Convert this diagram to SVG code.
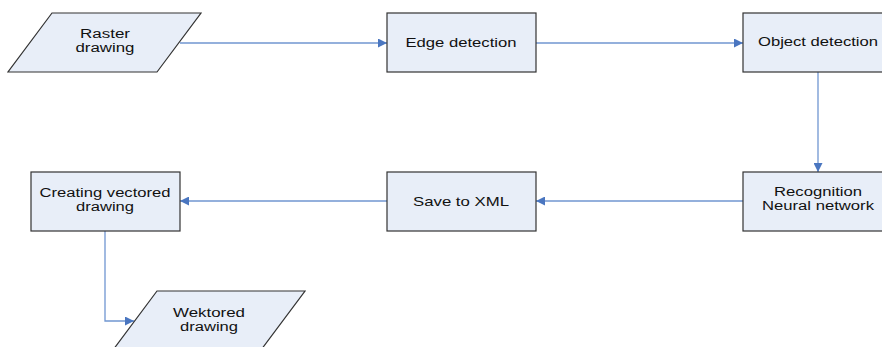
<svg xmlns="http://www.w3.org/2000/svg" width="882" height="347" viewBox="0 0 882 347">
<defs>
<style>
.n{fill:#E8EEF8;stroke:#333;stroke-width:1.2}
.t{font-family:"Liberation Sans",Arial,sans-serif;font-size:13px;fill:#111;text-anchor:middle}
.t2{font-size:12px}
.c{fill:none;stroke:#7096D1;stroke-width:1.3}
</style>
<marker id="a" viewBox="0 0 10 10" refX="10" refY="5" markerWidth="12" markerHeight="9" markerUnits="userSpaceOnUse" orient="auto">
<path d="M0,0 L10,5 L0,10 z" fill="#4A76C0"/>
</marker>
</defs>
<rect width="882" height="347" fill="#fff"/>
<g id="connectors">
<path class="c" d="M180,43 H387" marker-end="url(#a)"/>
<path class="c" d="M536,43 H743" marker-end="url(#a)"/>
<path class="c" d="M818,72 V172" marker-end="url(#a)"/>
<path class="c" d="M743,201 H536" marker-end="url(#a)"/>
<path class="c" d="M387,201 H180" marker-end="url(#a)"/>
<path class="c" d="M105,231 V321 H134" marker-end="url(#a)"/>
</g>
<g id="raster">
<polygon class="n" points="52,13 201,13 157,72 8,72"/>
<text class="t t2" x="105" y="38" textLength="50" lengthAdjust="spacingAndGlyphs">Raster</text>
<text class="t t2" x="105" y="52" textLength="59" lengthAdjust="spacingAndGlyphs">drawing</text>
</g>
<g id="edge">
<rect class="n" x="387" y="13" width="149" height="59"/>
<text class="t" x="461" y="47" textLength="111" lengthAdjust="spacingAndGlyphs">Edge detection</text>
</g>
<g id="object">
<rect class="n" x="743" y="13" width="149" height="59"/>
<text class="t" x="818" y="46" textLength="120" lengthAdjust="spacingAndGlyphs">Object detection</text>
</g>
<g id="recognition">
<rect class="n" x="743" y="172" width="149" height="59"/>
<text class="t t2" x="818" y="196" textLength="88" lengthAdjust="spacingAndGlyphs">Recognition</text>
<text class="t t2" x="818" y="210" textLength="112" lengthAdjust="spacingAndGlyphs">Neural network</text>
</g>
<g id="save">
<rect class="n" x="387" y="172" width="149" height="59"/>
<text class="t" x="461" y="206" textLength="96" lengthAdjust="spacingAndGlyphs">Save to XML</text>
</g>
<g id="creating">
<rect class="n" x="31" y="172" width="149" height="59"/>
<text class="t t2" x="105" y="197" textLength="131" lengthAdjust="spacingAndGlyphs">Creating vectored</text>
<text class="t t2" x="105" y="211" textLength="58" lengthAdjust="spacingAndGlyphs">drawing</text>
</g>
<g id="wektored">
<polygon class="n" points="157,291 305,291 261,350 113,350"/>
<text class="t t2" x="209" y="317" textLength="72" lengthAdjust="spacingAndGlyphs">Wektored</text>
<text class="t t2" x="209" y="331" textLength="58" lengthAdjust="spacingAndGlyphs">drawing</text>
</g>
</svg>
